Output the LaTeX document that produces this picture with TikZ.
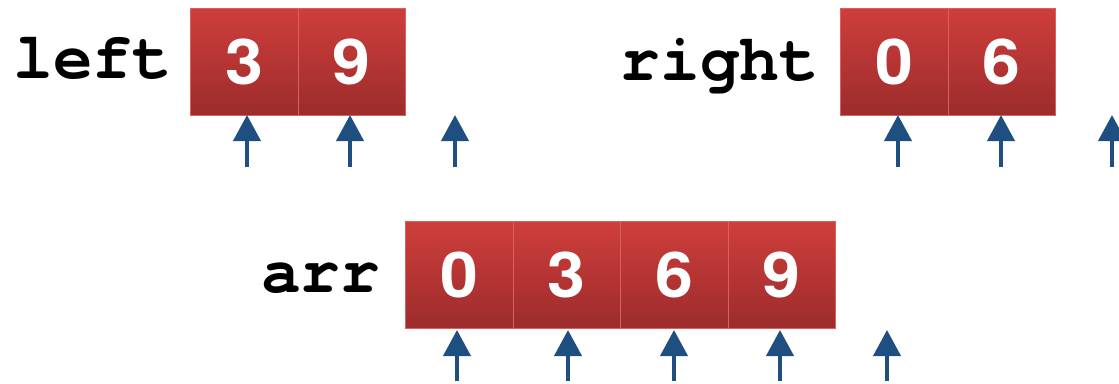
\documentclass[tikz,border=0pt]{standalone}
\usepackage{fontspec}
\usepackage{graphicx}
\setmainfont{Liberation Sans}
\newfontfamily\monob{texgyrecursor-bold.otf}
\newfontfamily\numfont{TeX Gyre Heros}
\usetikzlibrary{arrows.meta}
\definecolor{celltop}{HTML}{CE3E3B}
\definecolor{cellbot}{HTML}{9C2C2C}
\definecolor{celledge}{HTML}{D9605C}
\definecolor{arrowblue}{HTML}{1F4E80}
\newcommand\widedigit[1]{\scalebox{1.08}[1]{#1}}
\tikzset{
  cell/.style={draw=celledge, line width=1pt, top color=celltop, bottom color=cellbot,
    minimum width=107.5pt, minimum height=107pt, inner sep=0pt, anchor=north west,
    text=white, font=\numfont\bfseries\fontsize{63}{63}\selectfont},
  lbl/.style={inner sep=0pt, anchor=base east, font=\monob\fontsize{66}{66}\selectfont},
  ptr/.style={draw=arrowblue, line width=4pt, -{Triangle[width=27pt,length=26pt]}, arrowblue}
}
\begin{document}
\begin{tikzpicture}[x=1pt,y=-1pt]
\useasboundingbox (0,0) rectangle (1119,383);
% left
\node[lbl] (lleft) at (172,78) {left};
\node[cell] (l1) at (190,8) {\widedigit{3}};
\node[cell] (l2) at (297.5,8) {\widedigit{9}};
% right
\node[lbl] (lright) at (819,80) {right};
\node[cell] (r1) at (840,8) {\widedigit{0}};
\node[cell] (r2) at (947.5,8) {\widedigit{6}};
% arr
\node[lbl] (larr) at (380,292) {arr};
\node[cell] (a1) at (405,221) {\widedigit{0}};
\node[cell] (a2) at (512.5,221) {\widedigit{3}};
\node[cell] (a3) at (620,221) {\widedigit{6}};
\node[cell] (a4) at (727.5,221) {\widedigit{9}};
% pointers top-left
\coordinate (p1) at (247,167); \coordinate (q1) at (247,115);
\coordinate (p2) at (350,167); \coordinate (q2) at (350,115);
\coordinate (p3) at (455,167); \coordinate (q3) at (455,115);
\draw[ptr] (p1) -- (q1);
\draw[ptr] (p2) -- (q2);
\draw[ptr] (p3) -- (q3);
% pointers top-right
\coordinate (p4) at (898,167); \coordinate (q4) at (898,115);
\coordinate (p5) at (1001,167); \coordinate (q5) at (1001,115);
\coordinate (p6) at (1112,167); \coordinate (q6) at (1112,115);
\draw[ptr] (p4) -- (q4);
\draw[ptr] (p5) -- (q5);
\draw[ptr] (p6) -- (q6);
% pointers bottom
\coordinate (b1) at (457,381); \coordinate (c1) at (457,330);
\coordinate (b2) at (568,381); \coordinate (c2) at (568,330);
\coordinate (b3) at (674,381); \coordinate (c3) at (674,330);
\coordinate (b4) at (780,381); \coordinate (c4) at (780,330);
\coordinate (b5) at (887,381); \coordinate (c5) at (887,330);
\draw[ptr] (b1) -- (c1);
\draw[ptr] (b2) -- (c2);
\draw[ptr] (b3) -- (c3);
\draw[ptr] (b4) -- (c4);
\draw[ptr] (b5) -- (c5);
\end{tikzpicture}
\end{document}
